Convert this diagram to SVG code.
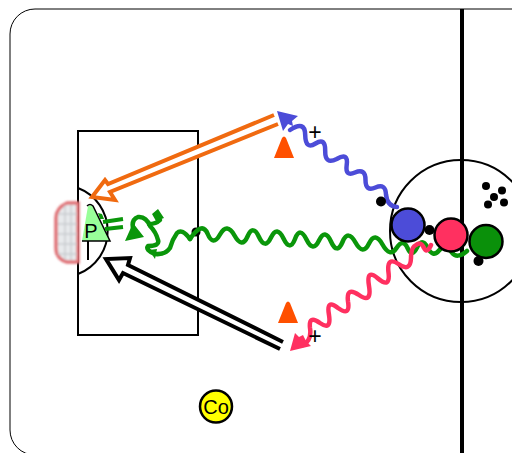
<svg xmlns="http://www.w3.org/2000/svg" width="512" height="453" viewBox="0 0 512 453">
<style>
.ln{fill:none;stroke:#000;stroke-width:1.5}
.sq{fill:none;stroke-width:4.500;stroke-linecap:round;stroke-linejoin:round}
.dot{fill:#000}
.pl{stroke:#000;stroke-width:2.500;stroke-linejoin:round}
.cone{fill:#ff5000}
text{font-family:"Liberation Sans",Arial,sans-serif;fill:#000}
</style>
<defs><filter id="b" x="-20%" y="-20%" width="140%" height="140%"><feGaussianBlur stdDeviation="1"/></filter></defs>
<rect id="rink" x="10" y="9" width="560" height="446" rx="25" ry="25" class="ln" style="stroke-width:1"/>
<line x1="462" y1="9" x2="462" y2="453" stroke="#000" stroke-width="4"/>
<circle id="faceoff" cx="461" cy="231" r="71" class="ln" style="stroke-width:2"/>
<rect id="zone" x="78" y="131" width="120" height="204" class="ln" style="stroke-width:2"/>
<path id="crease" d="M78 188A46 46 0 0 1 78 274" class="ln" style="stroke-width:2"/>
<circle class="dot" cx="196" cy="232" r="4.500"/>
<g id="goal" filter="url(#b)">
<path d="M78 203H67Q56 208 56 218V248Q56 259 67 262H78Z" fill="#e8eaec" stroke="#e07075" stroke-width="3.500"/>
<path d="M58 214H77M58 224H77M58 234H77M58 244H77M58 254H77M65 205V260M71 205V260" stroke="#c8cccf" stroke-width="1.500" fill="none"/>
</g>
<g id="goalie">
<line x1="88" y1="241" x2="88" y2="260" stroke="#000" stroke-width="2"/>
<path d="M82 241L88 206L92 205L110 241Z" fill="#99ff99"/>
<path d="M82 241H110L93 206Q90 203 87 206" fill="none" stroke="#000" stroke-width="1.500"/>
<text x="91" y="238" font-size="20" text-anchor="middle">P</text>
</g>
<g id="connectors">
<path class="sq" stroke="#0a960a" d="M190 239Q202 221 207.500 233.500Q213 247 220 234.500Q227 222 234.500 235.500Q242 249 247.500 236.500Q253 224 259 237Q265 250 271 237.500Q277 225 283.500 238.500Q290 252 295 239Q300 226 306.500 239.500Q313 253 319 240.500Q325 228 331 241.500Q337 255 342.500 242Q348 229 355.500 242.500Q363 256 369 243.500Q375 231 382.500 244.500Q390 258 396.500 248Q403 238 407.500 248Q412 258 417 247.500Q422 237 427.500 247.500Q433 258 439 250.500Q445 243 451 251.500Q457 260 467 251"/>
<path class="sq" stroke="#0a960a" d="M190 239Q182 228 177 233Q172 240 170 248Q165 255 155 254Q145 250 148 246Q160 246 158 240Q156 232 150 226Q146 216 138 217Q130 220 134 232"/>
<path class="sq" stroke="#0a960a" d="M149 224Q156 224 160 220"/>
<path fill="#0a960a" d="M125 241L133 223L144 237ZM152 214L158 209L164 218L156 221ZM149 250L157 249L155 259Z"/>
<path fill="none" stroke="#0a960a" stroke-width="4" d="M103 222L123 219M105 229L123 227"/>
<path fill="#0a960a" d="M98 213L102 214L104 219L100 219Z"/>
<path d="M274 115L108 184L105 180L92 197L115 200L110 192L278 124" fill="#fff" stroke="#f06a10" stroke-width="4"/>
<path d="M283 342L128 265L130 258L106 259L119 280L123 273L280 349" fill="#fff" stroke="#000" stroke-width="4"/>
<path class="sq" stroke="#4c4cd8" d="M290 130Q305 120 305.200 135Q305.500 150 315.500 143.500Q325.500 137 325.200 151Q325 165 336.700 159Q348.500 152 346.700 165Q345 177 355 172.500Q365.500 168 365.500 180Q365.500 192 375.500 187.500Q385.500 183 386 194.500Q387 206 397 207"/>
<path fill="#4c4cd8" d="M277 111L298 116L292 121L293 126L288 124L283 131Z"/>
<path class="sq" stroke="#ff3060" d="M303 345Q312 340 310 328Q308.500 314.500 320 323Q331.500 331 329 315Q326 298.500 338 308Q350.500 317 348 301.500Q346 286 359 295Q372 304 369 286Q366 268 378 278.500Q390.500 289 388.500 272.500Q386.500 256 398.500 264Q410.500 272.500 411 258Q411 247 416 245Q421 241 424 248Q427 254 431 245"/>
<path fill="#ff3060" d="M290 351L295 333L299 337L303 335L306 341L311 346Z"/>
</g>
<g id="cone1"><path class="cone" d="M274 158L282 138Q284 135 286 138L294 158Z"/></g>
<g id="cone2"><path class="cone" d="M278 323L286 303Q288 300 290 303L298 323Z"/></g>
<text id="plus1" x="315" y="139.500" font-size="23" text-anchor="middle">+</text>
<text id="plus2" x="315" y="343.500" font-size="23" text-anchor="middle">+</text>
<g id="p-blue"><circle cx="408" cy="225" r="16.500" fill="#4c4cd8" class="pl"/></g>
<g id="p-red"><circle cx="451" cy="235" r="16.500" fill="#ff3060" class="pl"/></g>
<g id="p-green"><circle cx="486" cy="241.500" r="16.500" fill="#0a900a" class="pl"/></g>
<g id="dots">
<circle class="dot" cx="381" cy="201.500" r="5"/>
<circle class="dot" cx="429.500" cy="230" r="5"/>
<circle class="dot" cx="478.500" cy="261" r="5"/>
<circle class="dot" cx="486" cy="186" r="4"/>
<circle class="dot" cx="502" cy="190.500" r="4"/>
<circle class="dot" cx="494" cy="197" r="4"/>
<circle class="dot" cx="488" cy="204.500" r="4"/>
<circle class="dot" cx="504" cy="202.500" r="4"/>
</g>
<g id="coach"><circle cx="216" cy="406.500" r="16" fill="#ffff00" class="pl"/><text x="216" y="413.500" font-size="20" text-anchor="middle">Co</text></g>
</svg>
